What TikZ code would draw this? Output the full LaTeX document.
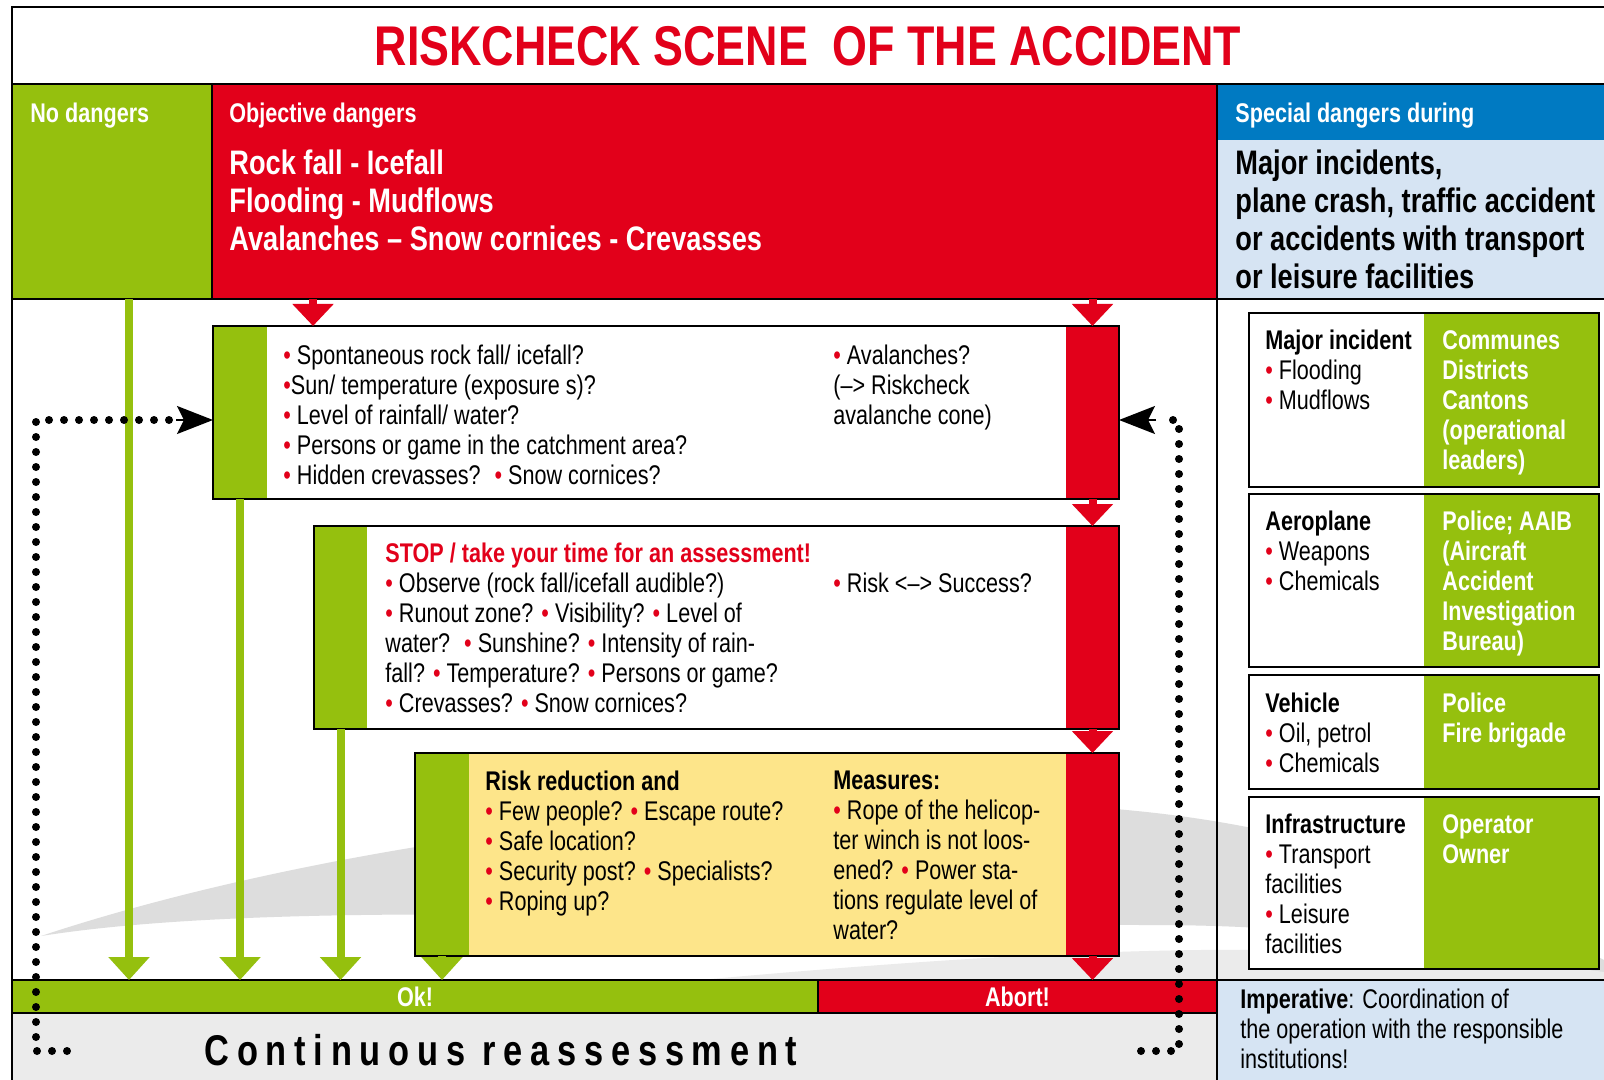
\documentclass[tikz,border=0pt]{standalone}
\usepackage{fontspec}
\setmainfont{Liberation Sans}[FakeStretch=0.8]
\usepackage{tikz}
\usetikzlibrary{arrows.meta, fit, calc}
\usepackage{xcolor}
\definecolor{rosso}{RGB}{226,0,26}
\definecolor{verde}{RGB}{149,192,14}
\definecolor{blu}{RGB}{0,122,194}
\definecolor{azzurro}{RGB}{214,228,243}
\definecolor{giallo}{RGB}{253,229,138}
\definecolor{grigio}{RGB}{235,235,235}
\definecolor{grigioscuro}{RGB}{221,221,221}
\newcommand{\pallino}{\textcolor{rosso}{\textbullet}}
\tikzset{
    riquadro/.style = {inner sep = 0pt, outer sep = 0pt},
    bordo/.style = {line width = 1pt},
    testo/.style = {font = \fontsize{13.5}{15}\selectfont, align = left, inner sep = 0pt, anchor = north west},
    testobianco/.style = {font = \bfseries\fontsize{13.5}{15}\selectfont, text = white, align = left, inner sep = 0pt, anchor = north west},
    testogrande/.style = {font = \bfseries\fontsize{17}{19}\selectfont, align = left, inner sep = 0pt, anchor = north west},
    frecciaverde/.style = {draw = verde, line width = 4pt, -{Triangle[length = 11.5pt, width = 20pt]}},
    frecciarossa/.style = {draw = rosso, line width = 4pt, -{Triangle[length = 11pt, width = 20pt]}},
    puntini/.style = {line width = 4pt, line cap = round, dash pattern = on 0pt off 7.5pt},
    punta/.style = {line width = 1pt, -{Stealth[length = 18pt, width = 14pt, inset = 3.5pt]}}
}

\begin{document}
\begin{tikzpicture}[x = 0.5pt, y = -0.5pt]
    % Cornice
    \useasboundingbox (0,0) rectangle (1604,1080);
    \fill[white] (0,0) rectangle (1604,1080);
    % Intestazione
    \node[riquadro, fit = {(12,84) (212,299)}, fill = verde] (nodang) {};
    \node[riquadro, fit = {(212,84) (1217,299)}, fill = rosso] (objd) {};
    \node[riquadro, fit = {(1217,84) (1604,140)}, fill = blu] (spec) {};
    \node[riquadro, fit = {(1217,140) (1604,299)}, fill = azzurro] (major) {};
    % Scia grigia
    \fill[grigioscuro] (41,936) .. controls (300,850) and (700,790) .. (1050,805) .. controls (1300,815) and (1450,880) .. (1604,960) -- (1604,990) .. controls (1450,940) and (1300,925) .. (1150,925) .. controls (800,925) and (300,895) .. (41,936) -- cycle;
    \fill[grigio] (700,980) .. controls (900,962) and (1050,952) .. (1200,950) .. controls (1400,948) and (1500,958) .. (1604,972) -- (1604,980) -- cycle;
    % Fondo
    \node[riquadro, fit = {(12,980) (818,1013)}, fill = verde] (okbar) {};
    \node[riquadro, fit = {(818,980) (1217,1013)}, fill = rosso] (abortbar) {};
    \node[riquadro, fit = {(12,1013) (1217,1080)}, fill = grigio] (reass) {};
    \node[riquadro, fit = {(1217,980) (1604,1080)}, fill = azzurro] (imper) {};
    % Riquadri centrali
    \node[riquadro, fit = {(213,326) (1119,499)}, fill = white] (boxA) {};
    \node[riquadro, fit = {(213,326) (267,499)}, fill = verde] (boxAg) {};
    \node[riquadro, fit = {(1066,326) (1119,499)}, fill = rosso] (boxAr) {};
    \draw[bordo] (boxA.north west) rectangle (boxA.south east);
    \node[riquadro, fit = {(314,526) (1119,729)}, fill = white] (boxB) {};
    \node[riquadro, fit = {(314,526) (367,729)}, fill = verde] (boxBg) {};
    \node[riquadro, fit = {(1066,526) (1119,729)}, fill = rosso] (boxBr) {};
    \draw[bordo] (boxB.north west) rectangle (boxB.south east);
    \node[riquadro, fit = {(415,753) (1119,956)}, fill = giallo] (boxC) {};
    \node[riquadro, fit = {(415,753) (469,956)}, fill = verde] (boxCg) {};
    \node[riquadro, fit = {(1066,753) (1119,956)}, fill = rosso] (boxCr) {};
    \draw[bordo] (boxC.north west) rectangle (boxC.south east);
    % Colonna destra
    \node[riquadro, fit = {(1249,313) (1599,487)}, fill = white] (rA) {};
    \node[riquadro, fit = {(1424,313) (1599,487)}, fill = verde] (rAg) {};
    \draw[bordo] (rA.north west) rectangle (rA.south east);
    \node[riquadro, fit = {(1249,494) (1599,667)}, fill = white] (rB) {};
    \node[riquadro, fit = {(1424,494) (1599,667)}, fill = verde] (rBg) {};
    \draw[bordo] (rB.north west) rectangle (rB.south east);
    \node[riquadro, fit = {(1249,675) (1599,789)}, fill = white] (rC) {};
    \node[riquadro, fit = {(1424,675) (1599,789)}, fill = verde] (rCg) {};
    \draw[bordo] (rC.north west) rectangle (rC.south east);
    \node[riquadro, fit = {(1249,797) (1599,969)}, fill = white] (rD) {};
    \node[riquadro, fit = {(1424,797) (1599,969)}, fill = verde] (rDg) {};
    \draw[bordo] (rD.north west) rectangle (rD.south east);
    % Linee
    \draw[bordo] (12,1080) -- (12,7) -- (1604,7);
    \draw[bordo] (12,84) -- (1604,84);
    \draw[bordo] (12,299) -- (1604,299);
    \draw[bordo] (nodang.north east) -- (nodang.south east);
    \draw[bordo] (1217,84) -- (1217,1080);
    \draw[bordo] (12,980) -- (1604,980);
    \draw[bordo] (12,1013) -- (1217,1013);
    \draw[bordo] (okbar.north east) -- (okbar.south east);
    % Frecce verdi
    \coordinate (v1) at (129,299);
    \draw[frecciaverde] (v1) -- (v1 |- okbar.north);
    \draw[frecciaverde] (boxAg.south) -- (boxAg.south |- okbar.north);
    \draw[frecciaverde] (boxBg.south) -- (boxBg.south |- okbar.north);
    \draw[frecciaverde] (boxCg.south) -- (boxCg.south |- okbar.north);
    % Frecce rosse
    \coordinate (r1) at (313,299);
    \draw[frecciarossa] (r1) -- (r1 |- boxA.north);
    \draw[frecciarossa] (boxAr.north |- objd.south) -- (boxAr.north);
    \draw[frecciarossa] (boxAr.south) -- (boxBr.north);
    \draw[frecciarossa] (boxBr.south) -- (boxCr.north);
    \draw[frecciarossa] (boxCr.south) -- (boxCr.south |- abortbar.north);
    % Rivalutazione continua
    \coordinate (sxFine) at (67,1051);
    \coordinate (sxBasso) at (36,1051);
    \coordinate (sxAlto) at (36,420);
    \coordinate (sxCoda) at (170,420);
    \coordinate (sxTesta) at (176,420);
    \draw[puntini] (sxFine) -- (sxBasso) -- (sxAlto) -- (sxCoda);
    \draw[punta] (sxTesta) -- (sxTesta -| boxA.west);
    \coordinate (dxFine) at (1141,1051);
    \coordinate (dxBasso) at (1179,1051);
    \coordinate (dxAlto) at (1179,420);
    \coordinate (dxCoda) at (1163,420);
    \coordinate (dxTesta) at (1156,420);
    \draw[puntini] (dxFine) -- (dxBasso) -- (dxAlto) -- (dxCoda);
    \draw[punta] (dxTesta) -- (dxTesta -| boxA.east);
    % Testi
    \node[font = \bfseries\fontsize{28}{30}\selectfont, text = rosso] (titolo) at (808,46) {RISKCHECK SCENE\ \ OF THE ACCIDENT};
    \node[testobianco] (tnodang) at (30,103) {No dangers};
    \node[testobianco] (tobjd) at (229,103) {Objective dangers};
    \node[testobianco] (tspec) at (1235,103) {Special dangers during};
    \node[testogrande, text = white] (tobjdlist) at (229,149) {Rock fall - Icefall\\Flooding - Mudflows\\Avalanches – Snow cornices - Crevasses};
    \node[testogrande] (tmajor) at (1235,149) {Major incidents,\\plane crash, traffic accident\\or accidents with transport\\or leisure facilities};
    \node[testo] (tA) at (283,345) {\pallino\ Spontaneous rock fall/ icefall?\\\pallino Sun/ temperature (exposure s)?\\\pallino\ Level of rainfall/ water?\\\pallino\ Persons or game in the catchment area?\\\pallino\ Hidden crevasses? \ \pallino\ Snow cornices?};
    \node[testo] (tAdx) at (833,345) {\pallino\ Avalanches?\\(–> Riskcheck\\avalanche cone)};
    \node[testo] (tB) at (385,543) {\textcolor{rosso}{\bfseries STOP / take your time for an assessment!}\\\pallino\ Observe (rock fall/icefall audible?)\\\pallino\ Runout zone? \pallino\ Visibility? \pallino\ Level of\\water? \ \pallino\ Sunshine? \pallino\ Intensity of rain-\\fall? \pallino\ Temperature? \pallino\ Persons or game?\\\pallino\ Crevasses? \pallino\ Snow cornices?};
    \node[testo] (tBdx) at (833,573) {\pallino\ Risk <–> Success?};
    \node[testo] (tC) at (485,771) {\textbf{Risk reduction and}\\\pallino\ Few people? \pallino\ Escape route?\\\pallino\ Safe location?\\\pallino\ Security post? \pallino\ Specialists?\\\pallino\ Roping up?};
    \node[testo] (tCdx) at (833,771) {\textbf{Measures:}\\\pallino\ Rope of the helicop-\\ter winch is not loos-\\ened? \pallino\ Power sta-\\tions regulate level of\\water?};
    \node[testo] (trA) at (1265,330) {\textbf{Major incident}\\\pallino\ Flooding\\\pallino\ Mudflows};
    \node[testobianco] (trAg) at (1442,330) {Communes\\Districts\\Cantons\\(operational\\leaders)};
    \node[testo] (trB) at (1265,511) {\textbf{Aeroplane}\\\pallino\ Weapons\\\pallino\ Chemicals};
    \node[testobianco] (trBg) at (1442,511) {Police; AAIB\\(Aircraft\\Accident\\Investigation\\Bureau)};
    \node[testo] (trC) at (1265,693) {\textbf{Vehicle}\\\pallino\ Oil, petrol\\\pallino\ Chemicals};
    \node[testobianco] (trCg) at (1442,693) {Police\\Fire brigade};
    \node[testo] (trD) at (1265,814) {\textbf{Infrastructure}\\\pallino\ Transport\\facilities\\\pallino\ Leisure\\facilities};
    \node[testobianco] (trDg) at (1442,814) {Operator\\Owner};
    \node[testobianco, anchor = center] (tok) at (okbar) {Ok!};
    \node[testobianco, anchor = center] (tabort) at (abortbar) {Abort!};
    \node[font = \bfseries\fontsize{21.5}{24}\selectfont\addfontfeatures{LetterSpace=18}] (tcont) at (501,1050) {Continuous reassessment};
    \node[testo] (timper) at (1240,989) {\textbf{Imperative}: Coordination of\\the operation with the responsible\\institutions!};
\end{tikzpicture}
\end{document}
